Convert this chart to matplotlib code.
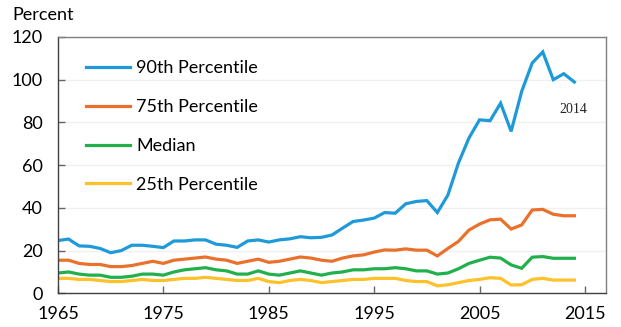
import matplotlib
matplotlib.use("Agg")
import matplotlib.pyplot as plt

years = list(range(1965, 2015))

p90 = [24.7, 25.4, 22.2, 22.0, 21.0, 19.0, 20.0, 22.5, 22.5, 22.0,
       21.4, 24.5, 24.5, 25.0, 25.0, 23.0, 22.5, 21.5, 24.5, 25.0,
       24.0, 25.0, 25.5, 26.5, 26.0, 26.2, 27.3, 30.5, 33.6, 34.3,
       35.2, 37.8, 37.5, 41.9, 43.0, 43.4, 37.8, 46.0, 61.0, 72.7,
       81.2, 80.8, 89.0, 75.8, 94.5, 107.8, 113.0, 100.0, 102.8, 98.9]
p75 = [15.5, 15.5, 14.0, 13.5, 13.5, 12.5, 12.5, 13.0, 14.0, 15.0,
       14.0, 15.5, 16.0, 16.5, 17.0, 16.0, 15.5, 14.0, 15.0, 16.0,
       14.5, 15.0, 16.0, 17.0, 16.5, 15.5, 15.0, 16.5, 17.5, 18.0,
       19.3, 20.3, 20.2, 20.8, 20.2, 20.2, 17.5, 21.0, 24.3, 29.6,
       32.4, 34.4, 34.7, 30.1, 32.0, 39.0, 39.3, 37.0, 36.3, 36.3]
median = [9.5, 10.0, 9.0, 8.5, 8.5, 7.5, 7.5, 8.0, 9.0, 9.0,
          8.5, 10.0, 11.0, 11.5, 12.0, 11.0, 10.5, 9.0, 9.0, 10.5,
          9.0, 8.5, 9.5, 10.5, 9.5, 8.5, 9.5, 10.0, 11.0, 11.0,
          11.5, 11.5, 12.0, 11.5, 10.5, 10.5, 9.0, 9.5, 11.5, 14.0,
          15.5, 16.9, 16.5, 13.3, 11.7, 16.9, 17.2, 16.4, 16.4, 16.4]
p25 = [7.0, 7.0, 6.5, 6.5, 6.0, 5.5, 5.5, 6.0, 6.5, 6.0,
       6.0, 6.5, 7.0, 7.0, 7.5, 7.0, 6.5, 6.0, 6.0, 7.0,
       5.5, 5.0, 6.0, 6.5, 6.0, 5.0, 5.5, 6.0, 6.5, 6.5,
       7.0, 7.0, 7.0, 6.0, 5.5, 5.5, 3.5, 4.0, 5.0, 6.0,
       6.5, 7.3, 7.0, 3.9, 4.0, 6.5, 7.0, 6.2, 6.2, 6.2]

series = [
    ("90th Percentile", p90, "#1f9ad8"),
    ("75th Percentile", p75, "#e9712b"),
    ("Median", median, "#21b04b"),
    ("25th Percentile", p25, "#fdc12a"),
]

xticks = [1965, 1975, 1985, 1995, 2005, 2015]
yticks = [0, 20, 40, 60, 80, 100, 120]

plt.rcParams["font.family"] = ["Lato", "DejaVu Sans"]

fig = plt.figure(figsize=(6.21, 3.27), dpi=100)
ax = fig.add_axes([0.0934, 0.103, 0.8824, 0.784])

for label, vals, color in series:
    ax.plot(years, vals, color=color, lw=2.3, label=label, solid_joinstyle="miter")

ax.set_xlim(1965, 2017)
ax.set_ylim(0, 120)
ax.set_xticks(xticks)
ax.set_yticks(yticks)
ax.tick_params(axis="both", direction="in", length=5, width=1, color="#666666",
               labelsize=13)
ax.tick_params(axis="x", pad=9)
ax.tick_params(axis="y", pad=11)
ax.grid(axis="y", color="#f0f0f0", lw=1)
ax.set_axisbelow(True)

for side in ("left", "bottom"):
    ax.spines[side].set_color("#404040")
    ax.spines[side].set_linewidth(1.0)
for side in ("top", "right"):
    ax.spines[side].set_color("#808080")
    ax.spines[side].set_linewidth(1.0)

leg = ax.legend(loc="upper left", bbox_to_anchor=(0.052, 0.91), frameon=False,
                fontsize=13, handlelength=2.4, handletextpad=0.35,
                labelspacing=1.27, borderpad=0, borderaxespad=0)

fig.text(0.02, 0.953, "Percent", fontsize=13, va="center", ha="left")
ax.text(2013.9, 86, "2014", fontsize=10, family="Liberation Serif",
        ha="center", va="center", color="#222222")

fig.savefig("out.png", dpi=100)
